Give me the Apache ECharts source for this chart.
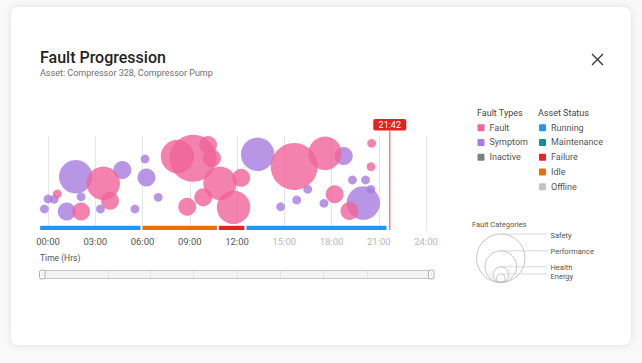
<!DOCTYPE html>
<html><head><meta charset="utf-8">
<script src="https://cdn.jsdelivr.net/npm/echarts@6/dist/echarts.min.js"></script>
<style>
html,body{margin:0;padding:0;width:642px;height:363px;background:#f9f9f9;overflow:hidden;}
#card{position:absolute;left:11px;top:7px;width:620px;height:338px;background:#fff;border-radius:8px;box-shadow:0 0 9px rgba(0,0,0,0.11);}
#chart{position:absolute;left:0;top:0;width:642px;height:363px;}
</style></head><body>
<div id="card"></div><div id="chart"></div>
<script>
// ---- data ----
const timeLabels = ['00:00','03:00','06:00','09:00','12:00','15:00','18:00','21:00','24:00'];
const faultTypes = ['Fault','Symptom','Inactive'];
const assetStatuses = ['Running','Maintenance','Failure','Idle','Offline'];
const faultCategories = ['Safety','Performance','Health','Energy'];
// bubbles: [hour, level, category]
const faultPoints = [
  [3.51,46.7,'Performance'],[3.94,29.3,'Health'],[0.59,36,'Energy'],[2.10,18.5,'Health'],
  [8.22,73.5,'Performance'],[9.21,71.7,'Safety'],[10.16,85,'Health'],[10.41,71.7,'Health'],
  [10.92,46.7,'Performance'],[12.27,52.2,'Health'],[9.86,32.7,'Health'],[8.84,23.3,'Health'],
  [11.78,22.7,'Performance'],[15.63,63.5,'Safety'],[17.59,76.7,'Performance'],[18.20,35.7,'Health'],
  [19.14,19,'Health'],[20.55,86.7,'Energy'],[20.51,63.3,'Energy']
];
const symptomPoints = [
  [1.76,53.3,'Performance'],[4.72,60,'Health'],[2.10,33.3,'Energy'],[0.0,31,'Energy'],
  [0.39,30.7,'Energy'],[-0.23,21,'Energy'],[1.19,18.5,'Health'],[3.33,21,'Energy'],
  [5.52,21,'Energy'],[6.16,71,'Energy'],[6.25,52.5,'Health'],[7.0,32.7,'Energy'],
  [13.31,75.7,'Performance'],[18.78,74,'Health'],[16.49,40.7,'Energy'],[15.79,30,'Energy'],
  [14.77,23.3,'Energy'],[17.52,26.7,'Energy'],[19.33,50,'Energy'],[20.02,27,'Performance'],
  [20.16,50,'Energy'],[20.50,40.7,'Energy']
];
const statusStart = [-0.5, 6.0, 10.85, 12.6];
const statusEnd   = [6.0, 10.85, 12.6, 21.62];
const statusName  = ['Running','Idle','Failure','Running'];
const currentTime = 21.7;
const currentTimeLabel = '21:42';

// ---- styles ----
const FONT = 'Roboto';
const typeColors = {Fault:'#f0649a', Symptom:'#a77be0', Inactive:'#7f7f7f'};
const statusColors = {Running:'#2196f3', Maintenance:'#138d9b', Failure:'#e32420', Idle:'#e8700c', Offline:'#c4c4c4'};
const catSize = {Safety:47, Performance:33.4, Health:18, Energy:8.8};

const chart = echarts.init(document.getElementById('chart'), null, {renderer:'svg'});

const graphics = [];
function txt(x,y,text,size,color,weight,align){
  graphics.push({type:'text', x:x, y:y, silent:true, style:{text:text, fontSize:size, fontFamily:FONT, fontWeight:weight||'normal', fill:color, align:align||'left', verticalAlign:'middle'}});
}
txt(40,57,'Fault Progression',16,'#1f1f1f','500');
txt(40,73,'Asset: Compressor 328, Compressor Pump',9,'#707070');
// close icon
graphics.push({type:'line', silent:true, shape:{x1:592,y1:54,x2:603,y2:65}, style:{stroke:'#333',lineWidth:1.3}});
graphics.push({type:'line', silent:true, shape:{x1:603,y1:54,x2:592,y2:65}, style:{stroke:'#333',lineWidth:1.3}});
// legends
const rowY = [127.7,142.4,157.2,172,186.7];
txt(477,113,'Fault Types',9,'#444');
faultTypes.forEach((t,i)=>{
  graphics.push({type:'rect', silent:true, shape:{x:477.5,y:rowY[i]-3.5,width:7,height:7,r:1}, style:{fill:typeColors[t]}});
  txt(489.5,rowY[i],t,9,'#555');
});
txt(538,113,'Asset Status',9,'#444');
assetStatuses.forEach((t,i)=>{
  graphics.push({type:'rect', silent:true, shape:{x:539,y:rowY[i]-3.5,width:7,height:7,r:1}, style:{fill:statusColors[t]}});
  txt(551,rowY[i],t,9,'#555');
});
// fault categories legend
txt(472,224,'Fault Categories',7.5,'#555');
const legR = [24.2,15.8,7.8,4.2];
const legLabelY = [235,251,267,276];
const cx = 500.8, cb = 282.4;
faultCategories.forEach((c,i)=>{
  const r = legR[i];
  graphics.push({type:'circle', silent:true, shape:{cx:cx,cy:cb-r,r:r}, style:{fill:'none',stroke:'#b5b5b5',lineWidth:0.8}});
  graphics.push({type:'line', silent:true, shape:{x1:cx,y1:cb-2*r,x2:547,y2:cb-2*r}, style:{stroke:'#d0d0d0',lineWidth:0.8}});
  txt(550.5,legLabelY[i],c,7.5,'#555');
});
// time slider
txt(40,258,'Time (Hrs)',8.5,'#555');
graphics.push({type:'rect', silent:true, shape:{x:40.5,y:270.5,width:393,height:8,r:2}, style:{fill:'#f3f3f3',stroke:'#c6c6c6',lineWidth:1}});
[108,150,193,237,280,323,367].forEach(x=>{
  graphics.push({type:'line', silent:true, shape:{x1:x+0.5,y1:271,x2:x+0.5,y2:278}, style:{stroke:'#e3e3e3',lineWidth:1}});
});
[[39.5],[428.5]].forEach(h=>{
  graphics.push({type:'rect', silent:true, shape:{x:h[0],y:270,width:5.5,height:9,r:2}, style:{fill:'#fff',stroke:'#9a9a9a',lineWidth:0.8}});
  graphics.push({type:'line', silent:true, shape:{x1:h[0]+2.75,y1:272.5,x2:h[0]+2.75,y2:276.5}, style:{stroke:'#9a9a9a',lineWidth:0.6,lineDash:[1,1]}});
});

function bubbleSeries(name, pts){
  return {
    type:'scatter', name:name, clip:false, silent:true,
    data: pts,
    symbolSize: v => catSize[v[2]],
    itemStyle:{color:typeColors[name], opacity:0.8},
    emphasis:{disabled:true}
  };
}

const option = {
  animation:false,
  grid:{left:48, width:378, top:136, height:94},
  xAxis:{
    type:'value', min:0, max:24, interval:3,
    axisLine:{show:false}, axisTick:{show:false},
    splitLine:{show:true, lineStyle:{color:'#e6e6e6', width:1}},
    axisLabel:{
      margin:6,
      formatter: v => { const s = timeLabels[Math.round(v/3)]; return v <= 12 ? '{d|'+s+'}' : '{l|'+s+'}'; },
      rich:{ d:{color:'#555', fontSize:9.5, fontFamily:FONT}, l:{color:'#b8b8b8', fontSize:9.5, fontFamily:FONT} }
    }
  },
  yAxis:{type:'value', min:0, max:94, show:false, splitLine:{show:false}},
  graphic: graphics,
  series:[
    bubbleSeries('Symptom', symptomPoints),
    bubbleSeries('Fault', faultPoints),
    {
      type:'custom', name:'Asset Status', silent:true, clip:false,
      data: statusStart.map((s,i)=>[s, statusEnd[i], assetStatuses.indexOf(statusName[i])]),
      encode:{x:[0,1]},
      renderItem:(params, api)=>{
        const a = api.coord([api.value(0), 4.2]);
        const b = api.coord([api.value(1), 0]);
        return {type:'rect', shape:{x:a[0], y:a[1], width:b[0]-a[0]-2, height:b[1]-a[1]},
                style:{fill:statusColors[assetStatuses[api.value(2)]]}};
      }
    },
    {
      type:'custom', name:'Now', silent:true, clip:false,
      data:[[currentTime]],
      encode:{x:0},
      renderItem:(params, api)=>{
        const p0 = api.coord([api.value(0), 0]);
        const p1 = api.coord([api.value(0), 99]);
        const pt = api.coord([api.value(0), 111]);
        return {type:'group', children:[
          {type:'line', shape:{x1:p0[0],y1:p0[1],x2:p1[0],y2:p1[1]}, style:{stroke:'#ef8585',lineWidth:1.6}},
          {type:'rect', shape:{x:p0[0]-16.5, y:pt[1], width:33, height:11.5, r:2}, style:{fill:'#e3211e'}},
          {type:'text', x:p0[0], y:pt[1]+6, style:{text:currentTimeLabel, fill:'#fff', fontSize:9, fontFamily:FONT, align:'center', verticalAlign:'middle'}}
        ]};
      }
    }
  ]
};
chart.setOption(option);
</script>
</body></html>
